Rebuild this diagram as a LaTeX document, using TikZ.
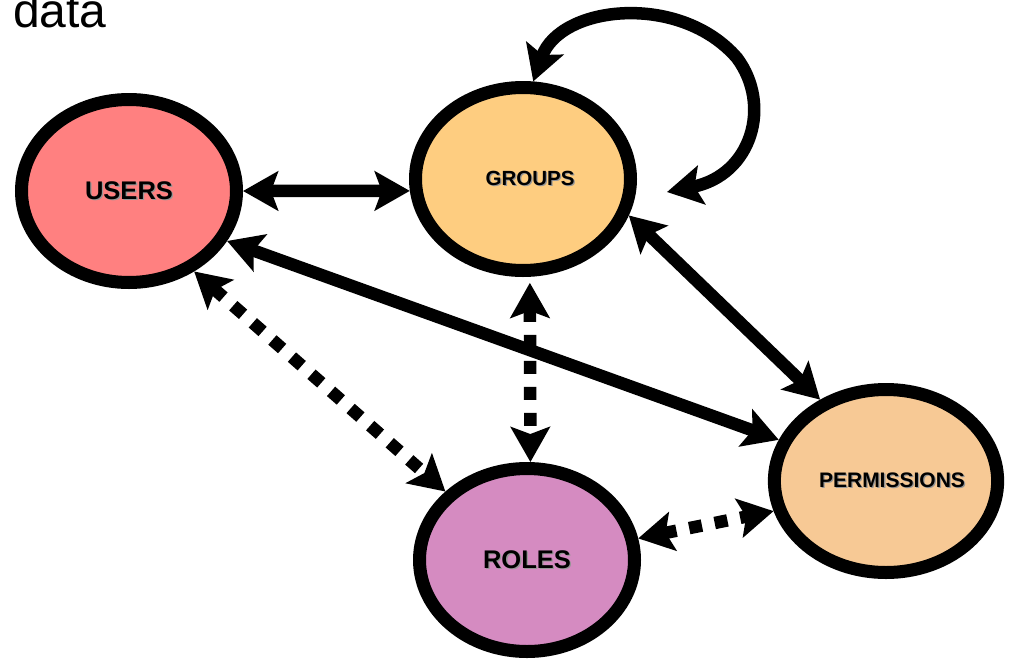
\documentclass[tikz,border=0pt]{standalone}
\usepackage{fontspec}
\setmainfont{Liberation Sans}
\usetikzlibrary{arrows.meta,shapes.geometric}

\definecolor{usersfill}{RGB}{255,128,128}
\definecolor{groupsfill}{RGB}{254,205,128}
\definecolor{permfill}{RGB}{247,201,149}
\definecolor{rolesfill}{RGB}{213,139,193}
\definecolor{labelshade}{RGB}{150,150,150}

% label text with a soft grey drop shadow
\newcommand\shadowed[1]{\makebox[0pt][l]{\raisebox{-1.3pt}{\hspace{1.3pt}\textcolor{labelshade}{#1}}}#1}

\begin{document}
\begin{tikzpicture}[x=1pt,y=-1pt,
  entity/.style={ellipse, draw=black, line width=13pt, inner sep=0pt,
    outer sep=6.5pt, minimum width=215pt, minimum height=183pt},
  link/.style={line width=12.5pt, {Stealth[length=35pt,width=39pt,inset=7pt]}-{Stealth[length=35pt,width=39pt,inset=7pt]}},
  dashlink/.style={link, dash pattern=on 13pt off 13pt}
]
\useasboundingbox (0,0) rectangle (1009,659);

\node[anchor=base west, inner sep=0pt, font=\fontsize{48}{54}\selectfont] (title) at (13,27) {data};

\node[entity, fill=usersfill]  (users)  at (129,191) {\fontsize{25.5}{30}\selectfont\bfseries\shadowed{USERS}};
\node[entity, fill=groupsfill] (groups) at (523,179) {\fontsize{20.5}{24}\selectfont\bfseries\hspace*{14pt}\shadowed{GROUPS}};
\node[entity, fill=rolesfill]  (roles)  at (527,560) {\fontsize{25.5}{30}\selectfont\bfseries\shadowed{ROLES}};
\node[entity, fill=permfill]   (perm)   at (886,481) {\fontsize{21}{24}\selectfont\bfseries\hspace*{12pt}\shadowed{PERMISSIONS}};

\coordinate (loopend) at (667,192);

% solid associations
\draw[link] (users.east) -- (groups.186);
\draw[link] (users.-27.7) -- (perm.159.4);
\draw[link] (groups.-19) -- (perm.129);

% dashed associations
\draw[dashlink, shorten <=6pt] (groups.-86) -- (roles.88);
\draw[dashlink] (users.-51.3) -- (roles.140.7);
\draw[dashlink] (roles.11.5) -- (perm.195.9);

% groups nested in groups
\draw[link] (groups.84) .. controls (560,5) and (680,-8) .. (737,58)
  .. controls (772,105) and (752,175) .. (loopend);
\end{tikzpicture}
\end{document}
